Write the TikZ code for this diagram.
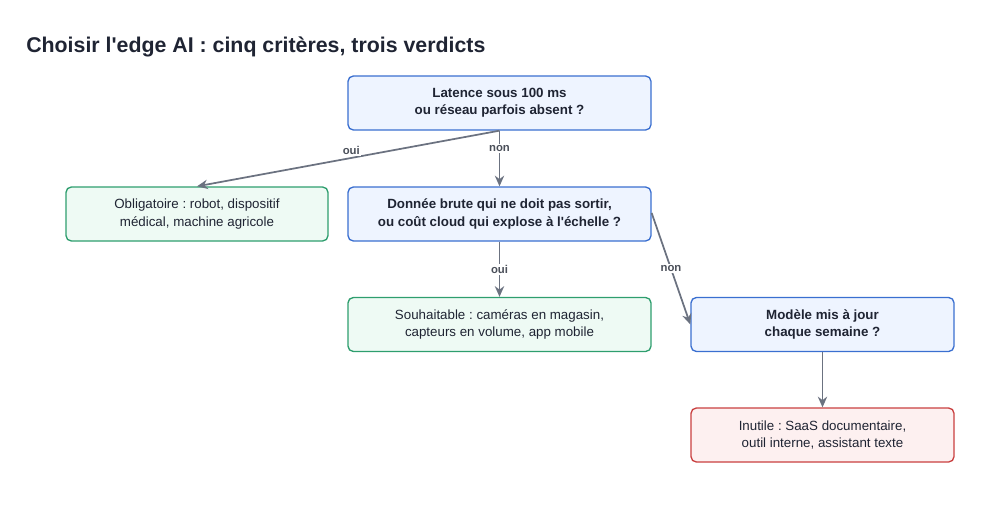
\documentclass[tikz,border=0pt]{standalone}
\usepackage{fontspec}
\setmainfont{Liberation Sans}
\usepackage{textcomp}
\frenchspacing
\usetikzlibrary{arrows.meta}
\definecolor{bfill}{HTML}{EEF4FF}\definecolor{bdraw}{HTML}{3A6FD0}
\definecolor{gfill}{HTML}{EEFAF4}\definecolor{gdraw}{HTML}{2E9E6E}
\definecolor{rfill}{HTML}{FDF0F0}\definecolor{rdraw}{HTML}{C94040}
\definecolor{arr}{HTML}{6B7280}\definecolor{txt}{HTML}{1F2433}
\begin{document}
\begin{tikzpicture}[x=0.75pt,y=-0.75pt,
 box/.style={rounded corners=4pt,line width=1pt,minimum width=303*0.75pt,minimum height=54*0.75pt,align=center,font=\fontsize{10}{13}\selectfont,text=txt},
 blue/.style={box,fill=bfill,draw=bdraw,font=\fontsize{10}{13}\selectfont\bfseries},
 green/.style={box,fill=gfill,draw=gdraw},
 red/.style={box,fill=rfill,draw=rdraw},
 ar/.style={draw=arr,line width=1.3pt,-{Stealth[length=8pt,width=7pt]}},
 lab/.style={font=\fontsize{8.5}{10}\selectfont\bfseries,text=arr!70!black,fill=white,inner sep=1pt}]
\useasboundingbox (0,0) rectangle (1000,514);
\node[anchor=west,font=\fontsize{16}{19}\selectfont\bfseries,text=txt,inner sep=0pt] (t) at (26,47) {Choisir l\textquotesingle edge AI : cinq critères, trois verdicts};
\node[blue] (a) at (499.5,103) {Latence sous 100 ms\\ou réseau parfois absent ?};
\node[green,minimum width=262*0.75pt] (b) at (197,214) {Obligatoire : robot, dispositif\\médical, machine agricole};
\node[blue] (c) at (499.5,214) {Donnée brute qui ne doit pas sortir,\\ou coût cloud qui explose à l\textquotesingle échelle ?};
\node[green] (d) at (499.5,324.5) {Souhaitable : caméras en magasin,\\capteurs en volume, app mobile};
\node[blue,minimum width=263*0.75pt] (e) at (822.5,324.5) {Modèle mis à jour\\chaque semaine ?};
\node[red,minimum width=263*0.75pt] (f) at (822.5,435) {Inutile : SaaS documentaire,\\outil interne, assistant texte};
\draw[ar] (a.south) -- (b.north) node[lab,pos=0.49,above=1pt] {oui};
\draw[ar] (a) -- (c) node[lab,pos=0.32] {non};
\draw[ar] (c) -- (d) node[lab,midway] {oui};
\draw[ar] (c.east) ++(0,-1) -- (e.west) node[lab,midway] {non};
\draw[ar] (e) -- (f);
\end{tikzpicture}
\end{document}
